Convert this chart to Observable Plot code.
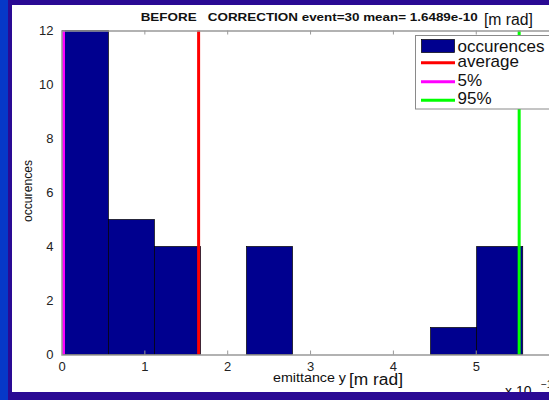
<!DOCTYPE html>
<html>
<head>
<meta charset="utf-8">
<script src="https://cdn.jsdelivr.net/npm/d3@7"></script>
<script src="https://cdn.jsdelivr.net/npm/@observablehq/plot@0.6"></script>
<style>
  html, body { margin: 0; padding: 0; overflow: hidden; background: #2a0a94; }
  #page { position: relative; width: 549px; height: 400px; overflow: hidden; background: #2a0a94; }
  #leftstrip { position: absolute; left: 0; top: 0; width: 8px; height: 400px; background: #0638c8; }
  #panel { position: absolute; left: 12px; top: 5px; width: 537px; height: 387px; background: #fff; overflow: hidden; }
  #stage { position: absolute; left: -12px; top: -5px; width: 560px; height: 400px; }
  #stage svg { display: block; }
</style>
</head>
<body>
<div id="page">
  <div id="leftstrip"></div>
  <div id="panel"><div id="stage"></div></div>
</div>
<script>
// ---- data ----
const binEdges = [0.010, 0.566, 1.121, 1.677, 2.233, 2.788, 3.344, 3.900, 4.455, 5.011, 5.567];
const counts   = [12, 5, 4, 0, 4, 0, 0, 0, 1, 4];
const meanValue = 1.6489;
const pct5Value = 0.018;
const pct95Value = 5.518;
const xTicks = [0, 1, 2, 3, 4, 5];
const yTicks = [0, 2, 4, 6, 8, 10, 12];
const legendLabels = ["occurences", "average", "5%", "95%"];
const legendColors = ["#00008f", "#ff0000", "#ff00ff", "#00ff00"];
const titleText = "BEFORE   CORRECTION event=30 mean= 1.6489e-10";
const unitText = "[m rad]";
const xLabelText = "emittance y";
const yLabelText = "occurences";

const bins = counts.map((c, i) => ({x1: binEdges[i], x2: binEdges[i + 1], count: c})).filter(d => d.count > 0);
const innerTicks = xTicks.filter(d => d > 0);

const font = "'Liberation Sans', Arial, Helvetica, sans-serif";

const svg = Plot.plot({
  width: 560,
  height: 400,
  marginLeft: 61.5,
  marginRight: 1.4,
  marginTop: 30.5,
  marginBottom: 45.5,
  x: {domain: [0, 6]},
  y: {domain: [0, 12]},
  style: {background: "transparent", fontFamily: font, color: "#222", overflow: "visible"},
  marks: [
    Plot.rectY(bins, {x1: "x1", x2: "x2", y: "count", fill: "#00008f", stroke: "#000", strokeWidth: 0.7}),
    Plot.ruleX([pct5Value], {stroke: legendColors[2], strokeWidth: 3}),
    Plot.ruleX([meanValue], {stroke: legendColors[1], strokeWidth: 3}),
    Plot.ruleX([pct95Value], {stroke: legendColors[3], strokeWidth: 3}),
    Plot.frame({stroke: "#999", strokeWidth: 1.5}),
    Plot.ruleX(innerTicks, {insetTop: 320, stroke: "#999"}),
    Plot.ruleX(innerTicks, {insetBottom: 320, stroke: "#999"}),
    Plot.axisX({ticks: xTicks, tickSize: 0, tickPadding: 7, fontSize: 13, label: null, tickFormat: d => String(d)}),
    Plot.axisY({ticks: yTicks, tickSize: 0, tickPadding: 8.5, fontSize: 13, label: null, tickFormat: d => String(d)})
  ]
});
document.getElementById("stage").appendChild(svg);

const s = d3.select(svg);
function addText(txt, x, y, size, opts = {}) {
  const t = s.append("text")
    .attr("x", x).attr("y", y)
    .attr("font-family", font)
    .attr("font-size", size)
    .attr("fill", opts.fill || "#111")
    .attr("text-anchor", opts.anchor || "start")
    .style("white-space", "pre")
    .text(txt);
  if (opts.bold) t.attr("font-weight", "bold");
  if (opts.length) t.attr("textLength", opts.length).attr("lengthAdjust", "spacingAndGlyphs");
  if (opts.transform) t.attr("transform", opts.transform);
  return t;
}

// title
addText(titleText, 140.7, 20.7, 11, {bold: true, length: 337});
addText(unitText, 484, 25, 16, {length: 49});
// x label
addText(xLabelText, 273, 381.5, 12, {length: 73});
addText(unitText, 349, 385, 16, {length: 54});
// exponent
addText("x 10", 505, 396, 14);
addText("\u221210", 541, 388, 10);
// y label
addText(yLabelText, 0, 0, 12, {anchor: "middle", length: 62, transform: "translate(31.5,191) rotate(-90)"});

// legend
const lg = s.append("g");
lg.append("rect").attr("x", 415.5).attr("y", 35.5).attr("width", 200).attr("height", 73.5)
  .attr("fill", "#fff").attr("stroke", "#8a8a8a").attr("stroke-width", 1);
lg.append("rect").attr("x", 421.5).attr("y", 39.5).attr("width", 33).attr("height", 13)
  .attr("fill", legendColors[0]).attr("stroke", "#000").attr("stroke-width", 0.7);
const lineYs = [null, 62.7, 81.7, 100.2];
const baseYs = [51.5, 67, 85.5, 104];
legendLabels.forEach((lab, i) => {
  if (i > 0) {
    lg.append("line").attr("x1", 421).attr("x2", 455).attr("y1", lineYs[i]).attr("y2", lineYs[i])
      .attr("stroke", legendColors[i]).attr("stroke-width", 3);
  }
  lg.append("text").attr("x", 457.5).attr("y", baseYs[i]).attr("text-anchor", "start")
    .attr("font-family", font).attr("font-size", 17).attr("fill", "#111").text(lab);
});
</script>
</body>
</html>
